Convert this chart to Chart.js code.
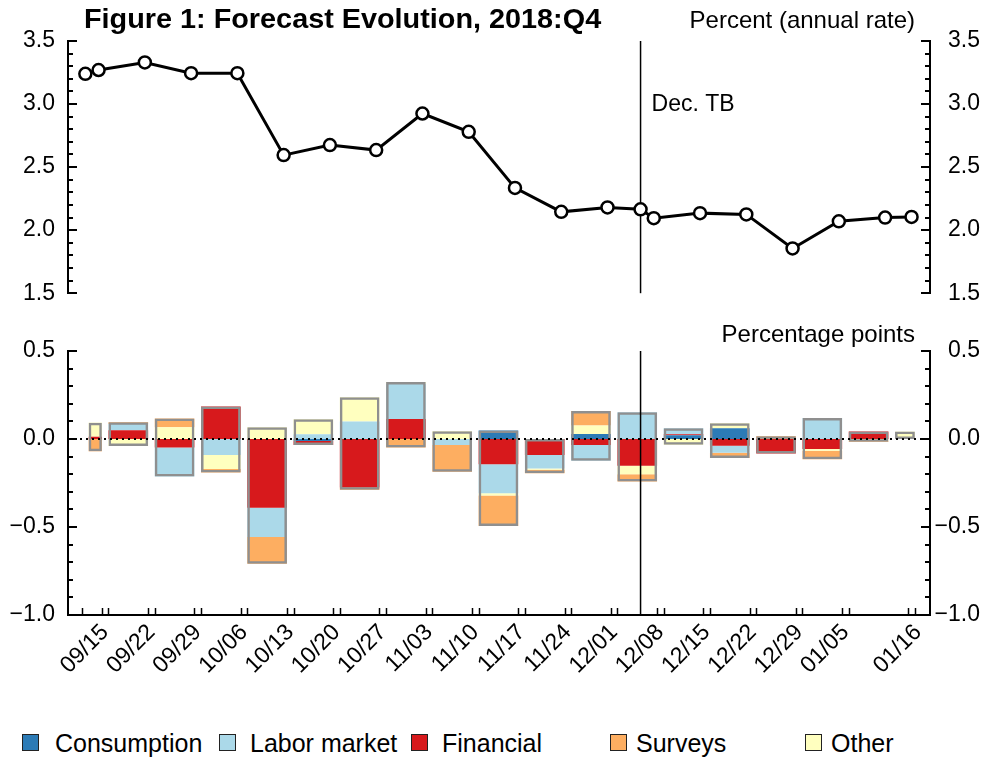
<!DOCTYPE html>
<html><head><meta charset="utf-8">
<script src="https://cdn.jsdelivr.net/npm/chart.js@4.4.1/dist/chart.umd.min.js"></script>
<style>
html,body{margin:0;padding:0;background:#fff;}
body{width:983px;height:761px;position:relative;overflow:hidden;font-family:'Liberation Sans',Arial,sans-serif;color:#000;}
canvas{position:absolute;left:0;}
.t{position:absolute;white-space:nowrap;line-height:24px;font-size:24px;}
.title{font-family:'Liberation Sans Narrow','Liberation Sans',Arial,sans-serif;font-weight:bold;font-size:28px;line-height:28px;transform-origin:0 50%;}
.lg{position:absolute;top:731px;height:24px;line-height:24px;font-size:25px;white-space:nowrap;}
</style></head><body>
<canvas id="c1" width="983" height="320" style="top:0"></canvas>
<canvas id="c2" width="983" height="380" style="top:320px"></canvas>
<div id="title" class="t title" style="left:84px;top:5px;">Figure 1: Forecast Evolution, 2018:Q4</div>
<div class="t" style="right:68px;top:8px;">Percent (annual rate)</div>
<div class="t" style="right:68px;top:322px;">Percentage points</div>
<div id="legend"></div>
<script>
// ---------------- data ----------------
const pointDates = ['2018-09-13','2018-09-15','2018-09-22','2018-09-29','2018-10-06','2018-10-13','2018-10-20',
  '2018-10-27','2018-11-03','2018-11-10','2018-11-17','2018-11-24','2018-12-01','2018-12-06','2018-12-08',
  '2018-12-15','2018-12-22','2018-12-29','2019-01-05','2019-01-12','2019-01-16'];
const forecast = [3.24, 3.27, 3.33, 3.245, 3.245, 2.595, 2.675, 2.635, 2.925, 2.78, 2.335, 2.145, 2.18,
  2.165, 2.095, 2.135, 2.125, 1.855, 2.07, 2.10, 2.105];

const barDates = ['2018-09-15','2018-09-22','2018-09-29','2018-10-06','2018-10-13','2018-10-20','2018-10-27',
  '2018-11-03','2018-11-10','2018-11-17','2018-11-24','2018-12-01','2018-12-08','2018-12-15','2018-12-22',
  '2018-12-29','2019-01-05','2019-01-12','2019-01-16'];
const consumption = [0, 0, 0, 0, 0, -0.012, 0, 0, 0, 0.048, 0, 0.029, 0, 0.021, 0.061, 0, 0, 0, 0];
const financial   = [0.013, 0.05, -0.048, 0.184, -0.39, -0.022, -0.276, 0.114, 0, -0.143, -0.091, -0.034, -0.152, 0.006, -0.038, -0.082, -0.057, 0.042, 0];
const labor       = [0, 0.035, -0.165, -0.091, -0.167, 0.027, 0.1, 0.2, -0.034, -0.165, -0.076, -0.089, 0.152, 0.034, -0.04, 0, 0.12, 0, 0];
const other       = [0.08, -0.04, 0.067, -0.08, 0.067, 0.085, 0.137, 0.01, 0.044, -0.013, -0.008, 0.048, -0.048, -0.032, 0.029, 0, -0.01, -0.01, 0.042];
const surveys     = [-0.07, 0.01, 0.05, -0.019, -0.152, 0, -0.013, -0.048, -0.152, -0.173, -0.019, 0.082, -0.042, 0, -0.03, 0.015, -0.048, -0.005, 0];

const tickDates  = ['2018-09-15','2018-09-22','2018-09-29','2018-10-06','2018-10-13','2018-10-20','2018-10-27',
  '2018-11-03','2018-11-10','2018-11-17','2018-11-24','2018-12-01','2018-12-08','2018-12-15','2018-12-22',
  '2018-12-29','2019-01-05','2019-01-16'];
const tickLabels = ['09/15','09/22','09/29','10/06','10/13','10/20','10/27','11/03','11/10','11/17','11/24',
  '12/01','12/08','12/15','12/22','12/29','01/05','01/16'];
const tbDate = '2018-12-06';
const tbLabel = 'Dec. TB';

const seriesNames  = ['Consumption','Labor market','Financial','Surveys','Other'];
const topRange = [1.5, 3.5];
const bottomRange = [-1.0, 0.5];
const xRange = ['2018-09-10T09:00', '2019-01-18T19:00'];

// ---------------- helpers ----------------
const origin = Date.UTC(2018, 8, 15);
const day = s => (Date.parse(s.length === 10 ? s + 'T00:00Z' : s + 'Z') - origin) / 86400000;
const pointDays = pointDates.map(day);
const barDays = barDates.map(day);
const tickDays = tickDates.map(day);
const tbDay = day(tbDate);
const xMin = day(xRange[0]), xMax = day(xRange[1]);
const fmt = v => (v < -1e-9 ? '\u2212' : '') + Math.abs(v).toFixed(1);

const colors = {Consumption:'#2c7bb6', 'Labor market':'#abd9e9', Financial:'#d7191c', Surveys:'#fdae61', Other:'#ffffbf'};
const FONT = "'Liberation Sans', Arial, sans-serif";
Chart.defaults.font.family = FONT;
Chart.defaults.color = '#000';

// fit the title to the width it spans in the original
(function () {
  const t = document.getElementById('title');
  const w = t.getBoundingClientRect().width;
  const target = 517;
  t.style.transform = 'scaleX(' + (target / w).toFixed(3) + ')';
})();

// bar extents (in days) derived from the bar dates
const barLeft = barDays.map((d, i) => i === 0 ? d - 1.5 : barDays[i - 1] + 1.5);
const barRight = barDays.map(d => d + 0.5);
// inward tick marks on the bottom axis, derived from dates
const xMarks = [pointDays[0] - 0.5];
tickDays.forEach((d, i) => { xMarks.push(d + 0.5); xMarks.push(i === tickDays.length - 1 ? d - 0.5 : d + 1.5); });

const yAxis = (range, pos) => ({
  position: pos, min: range[0], max: range[1],
  afterFit: s => { s.width = pos === 'left' ? 68 : 50; },
  ticks: {stepSize: 0.5, callback: fmt, font: {size: 23}, color: '#000', padding: 13,
          crossAlign: pos === 'left' ? 'near' : 'far'},
  grid: {display: false, drawTicks: false},
  border: {display: true, color: '#000', width: 2}
});

const inwardTicks = {
  id: 'inwardTicks',
  afterDraw(chart) {
    const ctx = chart.ctx, a = chart.chartArea, ys = chart.scales.y;
    ctx.save();
    ctx.strokeStyle = '#000'; ctx.lineWidth = 2;
    const n = Math.round((ys.max - ys.min) / 0.1);
    for (let k = 0; k <= n; k++) {
      const v = ys.min + k * 0.1;
      const major = Math.abs(v * 2 - Math.round(v * 2)) < 1e-6;
      const len = major ? 9 : 5;
      const py = Math.round(ys.getPixelForValue(v));
      ctx.beginPath();
      ctx.moveTo(a.left, py); ctx.lineTo(a.left + len, py);
      ctx.moveTo(a.right, py); ctx.lineTo(a.right - len, py);
      ctx.stroke();
    }
    if (chart.options.plugins.inwardTicks && chart.options.plugins.inwardTicks.x) {
      const xs = chart.scales.x;
      ctx.lineWidth = 1.5;
      xMarks.forEach(d => {
        const px = Math.round(xs.getPixelForValue(d)) + 0.5;
        ctx.beginPath(); ctx.moveTo(px, a.bottom); ctx.lineTo(px, a.bottom - 7); ctx.stroke();
      });
    }
    ctx.restore();
  }
};

const tbLine = {
  id: 'tbLine',
  beforeDatasetsDraw(chart, args, opts) { if (!opts.over) this.draw(chart, opts); },
  afterDatasetsDraw(chart, args, opts) { if (opts.over) this.draw(chart, opts); },
  draw(chart, opts) {
    const ctx = chart.ctx, a = chart.chartArea, xs = chart.scales.x;
    const px = xs.getPixelForValue(tbDay);
    ctx.save();
    ctx.strokeStyle = '#000'; ctx.lineWidth = 1.5;
    ctx.beginPath(); ctx.moveTo(px, a.top); ctx.lineTo(px, a.bottom); ctx.stroke();
    if (opts.label) {
      ctx.font = '23px ' + FONT; ctx.fillStyle = '#000';
      ctx.textBaseline = 'middle'; ctx.textAlign = 'left';
      ctx.fillText(tbLabel, px + 11, a.top + 64);
    }
    ctx.restore();
  }
};

const zeroLine = {
  id: 'zeroLine',
  afterDatasetsDraw(chart) {
    const ctx = chart.ctx, a = chart.chartArea, y0 = Math.round(chart.scales.y.getPixelForValue(0));
    ctx.save();
    ctx.strokeStyle = '#000'; ctx.lineWidth = 2; ctx.setLineDash([2, 4]);
    ctx.beginPath(); ctx.moveTo(a.left, y0); ctx.lineTo(a.right, y0); ctx.stroke();
    ctx.restore();
  }
};

const barGeometry = {
  id: 'barGeometry',
  afterDatasetsUpdate(chart) {
    const xs = chart.scales.x;
    chart.data.datasets.forEach((ds, di) => {
      chart.getDatasetMeta(di).data.forEach((el, i) => {
        const l = xs.getPixelForValue(barLeft[i]);
        const r = xs.getPixelForValue(barRight[i]);
        el.x = (l + r) / 2; el.width = r - l;
      });
    });
  }
};

// ---------------- top chart ----------------
new Chart(document.getElementById('c1'), {
  type: 'line',
  data: {datasets: [{
    data: pointDays.map((d, i) => ({x: d, y: forecast[i]})),
    borderColor: '#000', borderWidth: 3, tension: 0,
    pointRadius: 6, pointBorderWidth: 2.5, pointBackgroundColor: '#fff', pointBorderColor: '#000',
    clip: false
  }]},
  options: {
    responsive: false, animation: false, events: [],
    layout: {padding: {top: 41, bottom: 24, left: 0, right: 3}},
    plugins: {legend: {display: false}, tooltip: {enabled: false}, tbLine: {over: false, label: true}},
    scales: {
      x: {type: 'linear', min: xMin, max: xMax, display: false},
      y: yAxis(topRange, 'left'),
      y2: yAxis(topRange, 'right')
    }
  },
  plugins: [inwardTicks, tbLine]
});

// ---------------- bottom chart ----------------
const comps = [['Consumption', consumption], ['Financial', financial], ['Labor market', labor], ['Other', other], ['Surveys', surveys]];
const posSum = barDays.map((_, i) => comps.reduce((s, c) => s + Math.max(c[1][i], 0), 0));
const negSum = barDays.map((_, i) => comps.reduce((s, c) => s + Math.min(c[1][i], 0), 0));

const datasets = [{
  label: 'outline', stack: 'outline', grouped: false,
  data: barDays.map((d, i) => ({x: d, y: [negSum[i], posSum[i]]})),
  backgroundColor: 'rgba(0,0,0,0)', borderColor: '#8f8f8f', borderWidth: 2.5, borderSkipped: false
}].concat(comps.map(([name, arr]) => ({
  label: name, stack: 'comp', grouped: false,
  data: barDays.map((d, i) => ({x: d, y: arr[i]})),
  backgroundColor: colors[name], borderWidth: 0
})));

new Chart(document.getElementById('c2'), {
  type: 'bar',
  data: {datasets},
  options: {
    responsive: false, animation: false, events: [],
    layout: {padding: {top: 31, bottom: 0, left: 0, right: 3}},
    plugins: {legend: {display: false}, tooltip: {enabled: false}, tbLine: {over: true, label: false},
              inwardTicks: {x: true}},
    scales: {
      x: {type: 'linear', min: xMin, max: xMax, offset: false,
          afterFit: s => { s.height = 85; },
          afterBuildTicks: s => { s.ticks = tickDays.map(d => ({value: d + 1})); },
          ticks: {autoSkip: false, minRotation: 45, maxRotation: 45, font: {size: 23}, color: '#000', padding: 4,
                  callback: (v, i) => tickLabels[i]},
          grid: {display: false, drawTicks: false},
          border: {display: true, color: '#000', width: 2}},
      y: Object.assign(yAxis(bottomRange, 'left'), {stacked: true}),
      y2: yAxis(bottomRange, 'right')
    }
  },
  plugins: [barGeometry, zeroLine, tbLine, inwardTicks]
});

// ---------------- legend ----------------
const legendBoxX = [22, 219, 411, 610, 805];
const legendTextX = [55, 250, 442, 636, 831];
const lg = document.getElementById('legend');
seriesNames.forEach((n, i) => {
  const b = document.createElement('i');
  b.style.cssText = 'position:absolute;top:734px;left:' + legendBoxX[i] + 'px;width:15px;height:15px;border:1.5px solid #222;background:' + colors[n];
  lg.appendChild(b);
  const s = document.createElement('div');
  s.className = 'lg'; s.style.left = legendTextX[i] + 'px';
  s.textContent = n;
  lg.appendChild(s);
});
</script>
</body></html>
